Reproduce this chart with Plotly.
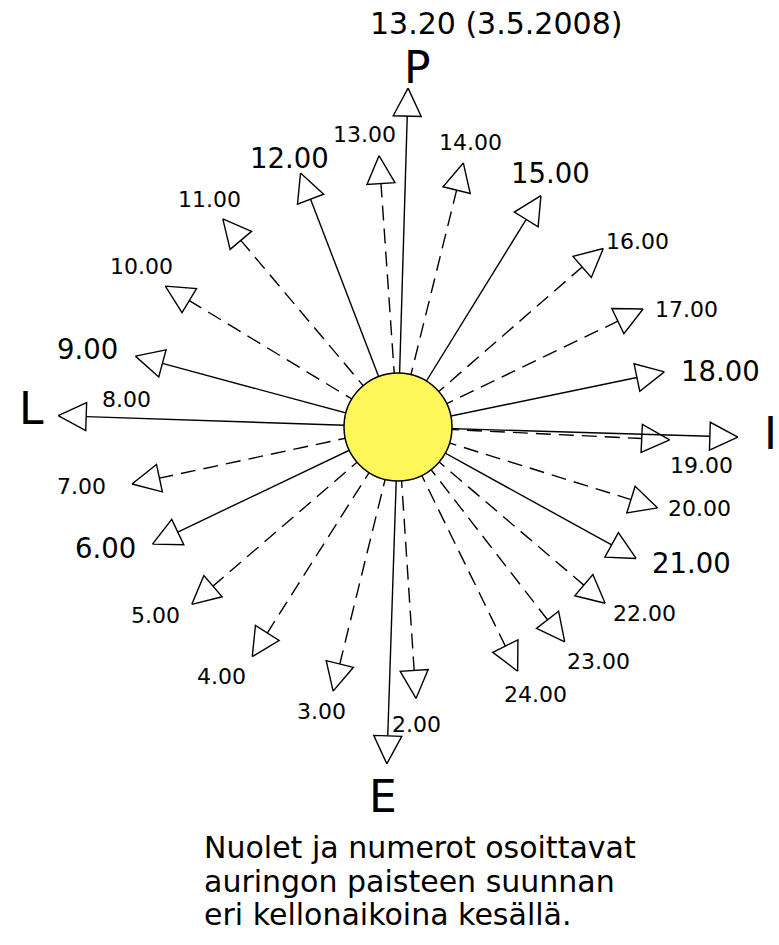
import numpy as np
import plotly.graph_objects as go

# ---------------- data ----------------
# sun direction (azimuth, degrees clockwise from north "P") at each clock hour
hour_labels = ["13.00", "14.00", "15.00", "16.00", "17.00", "18.00", "19.00", "20.00",
               "21.00", "22.00", "23.00", "24.00", "2.00", "3.00", "4.00", "5.00",
               "6.00", "7.00", "9.00", "10.00", "11.00", "12.00"]
hour_azimuth_deg = [-4.0, 13.9, 31.7, 49.0, 64.3, 78.3, 92.7, 107.3,
                    118.9, 130.4, 142.2, 153.9, 176.2, 193.8, 212.4, 229.3,
                    244.5, 257.9, 285.1, 301.2, 319.9, 339.0]
hour_length = [272] * len(hour_labels)
major_hours = ["6.00", "9.00", "12.00", "15.00", "18.00", "21.00"]

# compass directions (P = north, I = east, E = south, L = west)
cardinal_labels = ["P", "I", "E", "L"]
cardinal_azimuth_deg = [1.7, 91.7, 181.9, 271.9]
cardinal_length = [339, 340, 337, 340]
extra_hour_label = "8.00"          # printed on the L arrow
title_text = "13.20 (3.5.2008)"    # printed above the P arrow
caption_lines = ["Nuolet ja numerot osoittavat",
                 "auringon paisteen suunnan",
                 "eri kellonaikoina kesällä."]

# ---------------- layout helpers ----------------
W, H = 779, 945
CX, CY = 398, 427          # sun centre in page pixels
SUN_R = 54
HEAD_LEN, HEAD_HALF = 28, 14
FONT = "DejaVu Sans"

def px(xp, yp):
    """page pixel -> axis coordinates (origin at sun centre, y up)"""
    return xp - CX, CY - yp

# label centres in page pixels (layout only)
label_pos = {
    "13.00": (364, 134), "14.00": (470.5, 142.5), "12.00": (289.5, 157.5),
    "15.00": (550, 173), "11.00": (209, 199.5), "16.00": (637, 241.5),
    "10.00": (141, 266.5), "17.00": (686, 309), "9.00": (87, 349),
    "18.00": (720, 371), "8.00": (126, 399.5), "19.00": (701, 465),
    "7.00": (81, 486), "20.00": (699, 508.5), "6.00": (105.5, 547.5),
    "21.00": (691, 563), "22.00": (644, 613.5), "5.00": (155, 615),
    "23.00": (598.5, 661.5), "24.00": (535, 694), "4.00": (221, 676.5),
    "3.00": (321, 711), "2.00": (416, 724),
    "P": (417, 67.5), "I": (770, 433), "E": (382.5, 796), "L": (31.5, 408.5),
}
title_pos = (495.5, 23.5)
caption_x = 202
caption_mid_y = [847.5, 881.5, 914.8]

fig = go.Figure()

def arrow(az_deg, length, dash, layer_lines):
    a = np.radians(az_deg)
    u = np.array([np.sin(a), np.cos(a)])
    n = np.array([-u[1], u[0]])
    tip = length * u
    base = tip - HEAD_LEN * u
    c1 = base + HEAD_HALF * n
    c2 = base - HEAD_HALF * n
    layer_lines.append(dict(x=[0, base[0]], y=[0, base[1]], dash=dash))
    return dict(x=[tip[0], c1[0], c2[0], tip[0]], y=[tip[1], c1[1], c2[1], tip[1]])

lines, heads = [], []
for lab, az, ln in zip(hour_labels, hour_azimuth_deg, hour_length):
    dash = "solid" if lab in major_hours else "15px,8px"
    heads.append(arrow(az, ln, dash, lines))
for lab, az, ln in zip(cardinal_labels, cardinal_azimuth_deg, cardinal_length):
    heads.append(arrow(az, ln, "solid", lines))

# dashed lines first, then heads, then solid lines (I-line passes over 19.00 head)
for L in lines:
    if L["dash"] != "solid":
        fig.add_trace(go.Scatter(x=L["x"], y=L["y"], mode="lines",
                                 line=dict(color="black", width=1.4, dash=L["dash"]),
                                 hoverinfo="skip", showlegend=False))
for hd in heads:
    fig.add_trace(go.Scatter(x=hd["x"], y=hd["y"], mode="lines", fill="toself",
                             fillcolor="white",
                             line=dict(color="black", width=1.4),
                             hoverinfo="skip", showlegend=False))
for L in lines:
    if L["dash"] == "solid":
        fig.add_trace(go.Scatter(x=L["x"], y=L["y"], mode="lines",
                                 line=dict(color="black", width=1.4),
                                 hoverinfo="skip", showlegend=False))

# sun
fig.add_shape(type="circle", xref="x", yref="y", x0=-SUN_R, x1=SUN_R, y0=-SUN_R, y1=SUN_R,
              fillcolor="#FFF65A", line=dict(color="black", width=1.5), layer="above")

annotations = []
for lab in hour_labels + [extra_hour_label]:
    x, y = px(*label_pos[lab])
    size = 27.5 if lab in major_hours else 22
    annotations.append(dict(x=x, y=y, text=lab, showarrow=False, xanchor="center",
                            yanchor="middle", font=dict(family=FONT, size=size, color="black")))
for lab in cardinal_labels:
    x, y = px(*label_pos[lab])
    annotations.append(dict(x=x, y=y, text=lab, showarrow=False, xanchor="center",
                            yanchor="middle", font=dict(family=FONT, size=44, color="black")))
x, y = px(*title_pos)
annotations.append(dict(x=x, y=y, text=title_text, showarrow=False, xanchor="center",
                        yanchor="middle", font=dict(family=FONT, size=30, color="black")))
for line_txt, ym in zip(caption_lines, caption_mid_y):
    x, y = px(caption_x, ym)
    annotations.append(dict(x=x, y=y, text=line_txt, showarrow=False, xanchor="left",
                            yanchor="middle", font=dict(family=FONT, size=30, color="black")))

fig.update_layout(
    width=W, height=H, autosize=False,
    margin=dict(l=0, r=0, t=0, b=0, pad=0),
    paper_bgcolor="white", plot_bgcolor="white",
    xaxis=dict(range=[-CX, W - CX], visible=False, fixedrange=True),
    yaxis=dict(range=[CY - H, CY], visible=False, fixedrange=True),
    annotations=annotations,
    showlegend=False,
)

fig.write_html("out.html", config={"displayModeBar": False},
               post_script="document.body.style.margin='0px';document.body.style.overflow='hidden';")
